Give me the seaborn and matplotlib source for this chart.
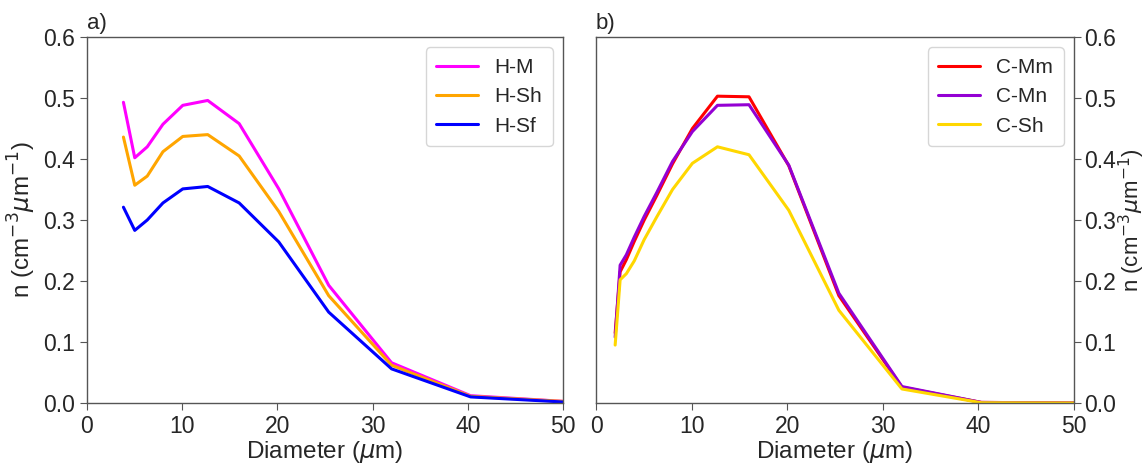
import numpy as np
import pandas as pd
import matplotlib
matplotlib.use("Agg")
import matplotlib.pyplot as plt
import seaborn as sns

# ---- data ----
diam_h = [3.85, 5.04, 6.35, 8.0, 10.08, 12.7, 16.0, 20.16, 25.4, 32.0, 40.3, 50.8]
h_m = [0.493, 0.402, 0.420, 0.457, 0.488, 0.496, 0.458, 0.351, 0.193, 0.066, 0.012, 0.002]
h_sh = [0.436, 0.357, 0.372, 0.412, 0.437, 0.440, 0.405, 0.314, 0.176, 0.062, 0.011, 0.002]
h_sf = [0.321, 0.283, 0.300, 0.328, 0.351, 0.355, 0.328, 0.264, 0.149, 0.056, 0.010, 0.001]

diam_c = [2.0, 2.52, 3.17, 4.0, 5.04, 6.35, 8.0, 10.08, 12.7, 16.0, 20.16, 25.4, 32.0, 40.3, 50.8]
c_mm = [0.115, 0.215, 0.235, 0.265, 0.300, 0.340, 0.392, 0.450, 0.503, 0.502, 0.389, 0.176, 0.026, 0.001, 0.0]
c_mn = [0.108, 0.226, 0.243, 0.272, 0.306, 0.345, 0.396, 0.445, 0.488, 0.489, 0.390, 0.180, 0.027, 0.001, 0.0]
c_sh = [0.095, 0.202, 0.212, 0.233, 0.268, 0.305, 0.350, 0.393, 0.420, 0.407, 0.316, 0.152, 0.023, 0.0005, 0.0]

names_h = ["H-M", "H-Sh", "H-Sf"]
names_c = ["C-Mm", "C-Mn", "C-Sh"]
colors_h = ["#FF00FF", "#FFA500", "#0000FF"]
colors_c = ["#FF0000", "#9400D3", "#FFD700"]

x_ticks = [0, 10, 20, 30, 40, 50]
y_ticks = [0.0, 0.1, 0.2, 0.3, 0.4, 0.5, 0.6]

df_h = pd.concat([pd.DataFrame({"d": diam_h, "n": v, "s": k})
                  for k, v in zip(names_h, [h_m, h_sh, h_sf])], ignore_index=True)
df_c = pd.concat([pd.DataFrame({"d": diam_c, "n": v, "s": k})
                  for k, v in zip(names_c, [c_mm, c_mn, c_sh])], ignore_index=True)

sns.set_style("ticks")
plt.rcParams["font.family"] = ["Liberation Sans", "DejaVu Sans"]
plt.rcParams["font.size"] = 14

fig = plt.figure(figsize=(11.46, 4.65), dpi=100)
ax1 = fig.add_axes([0.0757, 0.1333, 0.4156, 0.7871])
ax2 = fig.add_axes([0.5201, 0.1333, 0.4171, 0.7871])

sns.lineplot(data=df_h, x="d", y="n", hue="s", hue_order=names_h,
             palette=dict(zip(names_h, colors_h)), lw=2.2, ax=ax1)
sns.lineplot(data=df_c, x="d", y="n", hue="s", hue_order=names_c,
             palette=dict(zip(names_c, colors_c)), lw=2.2, ax=ax2)

ylab = r"n (cm$^{-3}\mu$m$^{-1}$)"
for ax, lab in [(ax1, "a)"), (ax2, "b)")]:
    ax.set_xlim(0, 50)
    ax.set_ylim(0, 0.6)
    ax.set_xticks(x_ticks)
    ax.set_yticks(y_ticks)
    ax.set_yticklabels([f"{t:.1f}" for t in y_ticks])
    ax.set_xlabel(r"Diameter ($\mu$m)", fontsize=17.5, labelpad=1)
    ax.tick_params(labelsize=16.5, direction="out", length=5, color="#555555")
    for sp in ax.spines.values():
        sp.set_color("#555555")
        sp.set_linewidth(1.0)
    ax.set_title(lab, loc="left", fontsize=16, pad=6)
    leg = ax.legend(loc="upper right", fontsize=15, frameon=True,
                    handlelength=2.0, borderpad=0.5, labelspacing=0.5)
    leg.get_frame().set_edgecolor("#cccccc")
    for line in leg.get_lines():
        line.set_linewidth(2.2)

ax1.set_ylabel(ylab, fontsize=17.5, labelpad=4)
ax2.yaxis.tick_right()
ax2.yaxis.set_label_position("right")
ax2.tick_params(axis="y", pad=2)
ax2.set_ylabel(ylab, fontsize=16, labelpad=1)

fig.savefig("out.png", dpi=100)
